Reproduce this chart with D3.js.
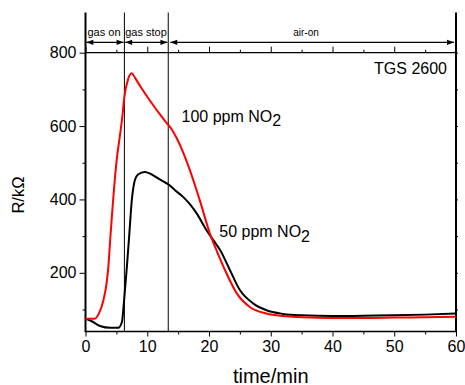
<!DOCTYPE html>
<html><head><meta charset="utf-8">
<script src="https://cdn.jsdelivr.net/npm/d3@7"></script>
<style>body{margin:0;background:#fff}svg{display:block;font-family:"Liberation Sans",Arial,sans-serif}</style>
</head><body><svg id="c" width="465" height="385"></svg>
<script>
// ---- data ----
const redTime  = [0,1.5,2.2,2.9,3.4,3.7,4.0,4.3,4.6,5.05,5.5,5.9,6.3,6.9,7.5,8.0,9.0,10.0,11.0,12.0,13.4,14.0,14.8,16.0,16.9,18.5,20.15,21.2,22.85,24.5,26.6,29.3,32,35,40,45,50,55,60];
const redValue = [75,75,90,125,170,216,290,360,425,507,565,616,680,728,744,732,705,680,656,633,603,590,566,520,480,398,307,262,198,144,107,89,82,79,77,77,78,79,80];
const blackTime  = [0,1,2.35,4,5.3,5.9,6.25,6.7,7.1,7.5,8.0,8.5,9.6,10.5,11.5,12.5,13.5,14.5,15.8,17.0,18.0,19.6,20.7,21.8,23.4,25,27.2,29.3,32,35,40,45,50,55,60];
const blackValue = [75,68,55,50,50,66,125,216,307,398,453,468,475,470,460,450,440,425,407,385,362,316,289,262,207,153,116,98,88,84,82,83,84,86,89];
const xTicks = [0,10,20,30,40,50,60];
const xMinor = [5,15,25,35,45,55];
const yTicks = [200,400,600,800];
const yMinor = [100,300,500,700];
const eventTimes = [6.3,13.4];
const phaseLabels = ["gas on","gas stop","air-on"];
const seriesLabels = ["100 ppm NO","50 ppm NO"];

const svg = d3.select("#c");
const L=85.5, R=456, T=52.7, B=331.5, TOP=12.5;
const x = d3.scaleLinear().domain([0,60]).range([L,R]);
const y = d3.scaleLinear().domain([40,800]).range([B,T]);

// axes
svg.append("g").attr("transform",`translate(0,${B})`)
  .call(d3.axisBottom(x).tickValues(xTicks).tickSize(5).tickPadding(4).tickFormat(d3.format("d")));
svg.append("g").attr("transform",`translate(0,${B})`)
  .call(d3.axisBottom(x).tickValues(xMinor).tickSize(3).tickFormat(""));
svg.append("g").attr("transform",`translate(${L},0)`)
  .call(d3.axisLeft(y).tickValues(yTicks).tickSize(6).tickPadding(3));
svg.append("g").attr("transform",`translate(${L},0)`)
  .call(d3.axisLeft(y).tickValues(yMinor).tickSize(3).tickFormat(""));
svg.append("g").attr("transform",`translate(0,${T})`)
  .call(d3.axisTop(x).tickValues(xTicks).tickSize(6).tickFormat(""));
svg.append("g").attr("transform",`translate(0,${T})`)
  .call(d3.axisTop(x).tickValues(xMinor).tickSize(3).tickFormat(""));
svg.append("g").attr("transform",`translate(${R},0)`)
  .call(d3.axisRight(y).tickValues(yTicks.concat(yMinor)).tickSize(2).tickFormat(""));
svg.selectAll(".domain").remove();
svg.selectAll(".tick line").attr("stroke","#000");
svg.selectAll(".tick text").attr("font-size",16).attr("fill","#000").attr("font-family","Liberation Sans, Arial, sans-serif");

// frame lines
svg.append("line").attr("x1",L).attr("x2",R).attr("y1",B).attr("y2",B).attr("stroke","#000").attr("stroke-width",1.5);
svg.append("line").attr("x1",L).attr("x2",R).attr("y1",T).attr("y2",T).attr("stroke","#000").attr("stroke-width",1.2);
svg.append("line").attr("x1",L).attr("x2",L).attr("y1",TOP).attr("y2",B+0.75).attr("stroke","#000").attr("stroke-width",2);
svg.append("line").attr("x1",R).attr("x2",R).attr("y1",TOP).attr("y2",B+0.75).attr("stroke","#000").attr("stroke-width",2);
eventTimes.forEach(t=>{
  svg.append("line").attr("x1",x(t)).attr("x2",x(t)).attr("y1",TOP).attr("y2",B).attr("stroke","#000").attr("stroke-width",1);
});

// curves
const line = d3.line().curve(d3.curveMonotoneX);
function draw(ts,vs,color){
  svg.append("path").attr("d",line(ts.map((t,i)=>[x(t),y(vs[i])])))
    .attr("fill","none").attr("stroke",color).attr("stroke-width",2).attr("stroke-linejoin","round");
}
draw(blackTime,blackValue,"#000");
draw(redTime,redValue,"#ff0000");

// arrows
const AY=42.3;
function arrowHead(px,dir){
  const len=7, hw=2.6;
  svg.append("path").attr("d",`M${px},${AY} L${px-dir*len},${AY-hw} L${px-dir*len},${AY+hw} Z`).attr("fill","#000");
}
const segs=[[0,eventTimes[0]],[eventTimes[0],eventTimes[1]],[eventTimes[1],60]];
const labelX=[104,146,306];
segs.forEach((s,i)=>{
  const a=x(s[0])+(i===2?2:0.8), b=x(s[1])-(i===2?2:0.8);
  svg.append("line").attr("x1",a).attr("x2",b).attr("y1",AY).attr("y2",AY).attr("stroke","#000").attr("stroke-width",1.3);
  arrowHead(a,-1); arrowHead(b,1);
  svg.append("text").attr("x",labelX[i]).attr("y",35.5)
    .attr("text-anchor","middle").attr("font-size",i===2?10:11).text(phaseLabels[i]);
});

// annotations
svg.append("text").attr("x",447).attr("y",74).attr("text-anchor","end").attr("font-size",16).text("TGS 2600");
function subLabel(px,py,txt){
  const t=svg.append("text").attr("x",px).attr("y",py).attr("font-size",16);
  t.append("tspan").text(txt);
  t.append("tspan").attr("dy",4.5).text("2");
}
subLabel(181.5,121.7,seriesLabels[0]);
subLabel(219.3,237.3,seriesLabels[1]);

// axis titles
svg.append("text").attr("x",(L+R)/2).attr("y",382.5).attr("text-anchor","middle").attr("font-size",20).text("time/min");
svg.append("text").attr("transform","translate(23.5,195) rotate(-90)").attr("text-anchor","middle").attr("font-size",16.5).text("R/kΩ");
</script></body></html>
